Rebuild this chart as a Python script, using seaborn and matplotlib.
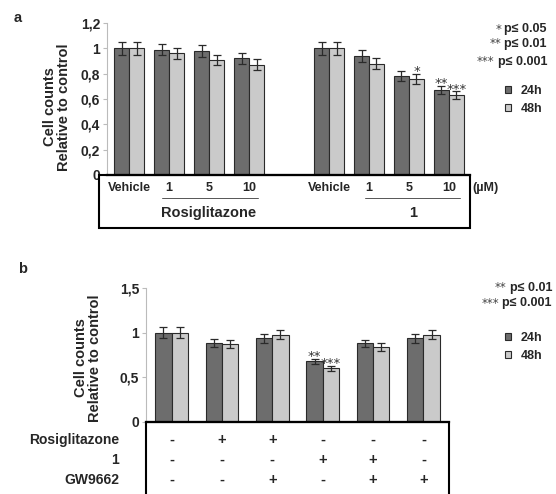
import numpy as np
import pandas as pd
import matplotlib
matplotlib.use("Agg")
import matplotlib.pyplot as plt
import matplotlib.transforms as mtransforms
from matplotlib.patches import Rectangle
from matplotlib.lines import Line2D
import seaborn as sns

# ---- data: panel a (rosiglitazone vs compound 1, µM) ----
a_slots = ["R-Vehicle", "R-1", "R-5", "R-10", "gap", "C-Vehicle", "C-1", "C-5", "C-10"]
a_conds = ["R-Vehicle", "R-1", "R-5", "R-10", "C-Vehicle", "C-1", "C-5", "C-10"]
a_ticklabels = ["Vehicle", "1", "5", "10", "", "Vehicle", "1", "5", "10"]
a_24h = [1.00, 0.99, 0.98, 0.92, 1.00, 0.94, 0.78, 0.67]
a_48h = [1.00, 0.96, 0.91, 0.87, 1.00, 0.88, 0.76, 0.63]
a_24h_err = [0.05, 0.045, 0.05, 0.045, 0.05, 0.045, 0.04, 0.03]
a_48h_err = [0.05, 0.045, 0.04, 0.045, 0.05, 0.045, 0.04, 0.03]
a_24h_sig = ["", "", "", "", "", "", "", "**"]
a_48h_sig = ["", "", "", "", "", "", "*", "***"]

# ---- data: panel b (combinations) ----
b_conds = ["g1", "g2", "g3", "g4", "g5", "g6"]
b_24h = [1.00, 0.89, 0.94, 0.68, 0.88, 0.94]
b_48h = [1.00, 0.87, 0.98, 0.60, 0.84, 0.98]
b_24h_err = [0.06, 0.045, 0.05, 0.03, 0.04, 0.05]
b_48h_err = [0.06, 0.045, 0.05, 0.025, 0.04, 0.05]
b_24h_sig = ["", "", "", "**", "", ""]
b_48h_sig = ["", "", "", "***", "", ""]
b_rosi = ["-", "+", "+", "-", "-", "-"]
b_cmpd = ["-", "-", "-", "+", "+", "-"]
b_gw = ["-", "-", "+", "-", "+", "+"]

times = ["24h", "48h"]
colors = ["#6d6d6d", "#cacaca"]

W, H = 556, 494
sns.set_style("white")
plt.rcParams["font.family"] = ["Liberation Sans", "DejaVu Sans"]
plt.rcParams["font.weight"] = "bold"


def fx(px):
    return px / W


def fy(py):
    return 1 - py / H


def make_df(conds, v24, v48, e24, e48, s24, s48):
    rows = []
    for c, a, b, ea, eb, sa, sb in zip(conds, v24, v48, e24, e48, s24, s48):
        rows.append({"cond": c, "time": "24h", "value": a, "err": ea, "sig": sa})
        rows.append({"cond": c, "time": "48h", "value": b, "err": eb, "sig": sb})
    return pd.DataFrame(rows)


def draw_panel(ax, df, order, width, ylim, yticks, yticklabels):
    sns.barplot(data=df, x="cond", y="value", hue="time", order=order,
                hue_order=times, palette=colors, errorbar=None, width=width,
                edgecolor="#2a2a2a", linewidth=0.8, ax=ax, legend=True)
    # error bars + significance stars from the bars themselves
    for t, container in zip(times, ax.containers):
        sub = df[df["time"] == t].set_index("cond")
        present = [c for c in order if c in sub.index]
        for bar, c in zip(container, present):
            xc = bar.get_x() + bar.get_width() / 2
            h = bar.get_height()
            e = sub.loc[c, "err"]
            ax.errorbar(xc, h, yerr=e, color="#2a2a2a", capsize=3.2,
                        elinewidth=0.9, capthick=0.9)
            if sub.loc[c, "sig"]:
                ax.annotate(sub.loc[c, "sig"], (xc, h + e), xytext=(0, -3),
                            textcoords="offset points", ha="center", va="bottom",
                            fontsize=9.5, fontweight="normal", color="#333333",
                            family="DejaVu Sans")
    ax.set_ylim(*ylim)
    ax.set_yticks(yticks)
    ax.set_yticklabels(yticklabels, fontsize=10, fontweight="bold")
    ax.set_xticks([])
    ax.set_xlabel("")
    ax.set_ylabel("")
    for s in ["top", "right"]:
        ax.spines[s].set_visible(False)
    ax.spines["left"].set_color("#bbbbbb")
    ax.spines["left"].set_linewidth(0.8)
    ax.spines["bottom"].set_color("black")
    ax.spines["bottom"].set_linewidth(1.6)
    ax.tick_params(axis="y", length=3, color="#bbbbbb", pad=2, left=True)


def p_key(x_px, rows):
    # bold "p≤ ..." text, with lighter stars in front of it
    for py, stars, s in rows:
        t = fig.text(fx(x_px), fy(py), s, ha="right", va="center", fontsize=9,
                     fontweight="bold")
        fig.add_artist(matplotlib.text.Annotation(
            stars, xy=(0, 0.5), xycoords=t, xytext=(-2.5, 0),
            textcoords="offset points", ha="right", va="center",
            fontsize=8.5, fontweight="normal", color="#444444",
            family="DejaVu Sans"))


fig = plt.figure(figsize=(W / 100, H / 100), dpi=100)

# ---------------- panel a ----------------
ax_a = fig.add_axes([fx(107), fy(175), fx(470) - fx(107), fy(23) - fy(175)])
df_a = make_df(a_conds, a_24h, a_48h, a_24h_err, a_48h_err, a_24h_sig, a_48h_sig)
draw_panel(ax_a, df_a, a_slots, 0.75, (0, 1.2),
           [0, 0.2, 0.4, 0.6, 0.8, 1.0, 1.2],
           ["0", "0,2", "0,4", "0,6", "0,8", "1", "1,2"])
ax_a.set_xlim(-0.55, 8.525)
tr_a = mtransforms.blended_transform_factory(ax_a.transData, fig.transFigure)
for i, lab in enumerate(a_ticklabels):
    if lab:
        ax_a.text(i, fy(188), lab, transform=tr_a, ha="center", va="center",
                  fontsize=9, fontweight="bold")
for x0, x1 in [(0.82, 3.22), (5.9, 8.28)]:
    ax_a.add_line(Line2D([x0, x1], [fy(198), fy(198)], transform=tr_a,
                         color="#555555", linewidth=0.7, clip_on=False))
ax_a.text(2, fy(213), "Rosiglitazone", transform=tr_a, ha="center", va="center",
          fontsize=10.5, fontweight="bold")
ax_a.text(7.1, fy(213), "1", transform=tr_a, ha="center", va="center",
          fontsize=10.5, fontweight="bold")
fig.text(fx(472), fy(188), "(µM)", ha="left", va="center", fontsize=9,
         fontweight="bold")
fig.add_artist(Rectangle((fx(99), fy(228)), fx(470) - fx(99), fy(175) - fy(228),
                         transform=fig.transFigure, fill=False, edgecolor="black",
                         linewidth=1.5))
fig.text(fx(57), fy(107), "Cell counts\nRelative to control", rotation=90,
         ha="center", va="center", multialignment="center", fontsize=10.5,
         fontweight="bold", linespacing=1.05)
fig.text(fx(14), fy(18), "a", ha="left", va="center", fontsize=10.5, fontweight="bold")

p_key(547, [(29, "*", "p≤ 0.05"), (44, "**", "p≤ 0.01"), (62, "***", "p≤ 0.001")])
sns.move_legend(ax_a, loc="upper left", bbox_to_anchor=(fx(494), fy(74)),
                bbox_transform=fig.transFigure, title=None, frameon=False,
                handlelength=0.45, handleheight=0.45, handletextpad=0.8,
                labelspacing=0.45, prop={"size": 9, "weight": "bold"})

# ---------------- panel b ----------------
ax_b = fig.add_axes([fx(146), fy(421.7), fx(449) - fx(146), fy(288.3) - fy(421.7)])
df_b = make_df(b_conds, b_24h, b_48h, b_24h_err, b_48h_err, b_24h_sig, b_48h_sig)
draw_panel(ax_b, df_b, b_conds, 0.65, (0, 1.5), [0, 0.5, 1.0, 1.5],
           ["0", "0,5", "1", "1,5"])
ax_b.set_xlim(-0.506, 5.506)
tr_b = mtransforms.blended_transform_factory(ax_b.transData, fig.transFigure)
for py, name, signs in [(440, "Rosiglitazone", b_rosi), (460, "1", b_cmpd),
                        (480, "GW9662", b_gw)]:
    fig.text(fx(119), fy(py), name, ha="right", va="center", fontsize=10,
             fontweight="bold")
    for i, s in enumerate(signs):
        ax_b.text(i, fy(py), s, transform=tr_b, ha="center", va="center",
                  fontsize=10.5, fontweight="bold")
fig.add_artist(Rectangle((fx(146), fy(520)), fx(449) - fx(146), fy(421.7) - fy(520),
                         transform=fig.transFigure, fill=False, edgecolor="black",
                         linewidth=1.5, clip_on=False))
fig.text(fx(88), fy(358), "Cell counts\nRelative to control", rotation=90,
         ha="center", va="center", multialignment="center", fontsize=10.5,
         fontweight="bold", linespacing=1.05)
fig.text(fx(18), fy(269), "b", ha="left", va="center", fontsize=10.5, fontweight="bold")

p_key(552, [(288, "**", "p≤ 0.01"), (303, "***", "p≤ 0.001")])
sns.move_legend(ax_b, loc="upper left", bbox_to_anchor=(fx(494), fy(321)),
                bbox_transform=fig.transFigure, title=None, frameon=False,
                handlelength=0.45, handleheight=0.45, handletextpad=0.8,
                labelspacing=0.45, prop={"size": 9, "weight": "bold"})

fig.savefig("out.png", dpi=100)
